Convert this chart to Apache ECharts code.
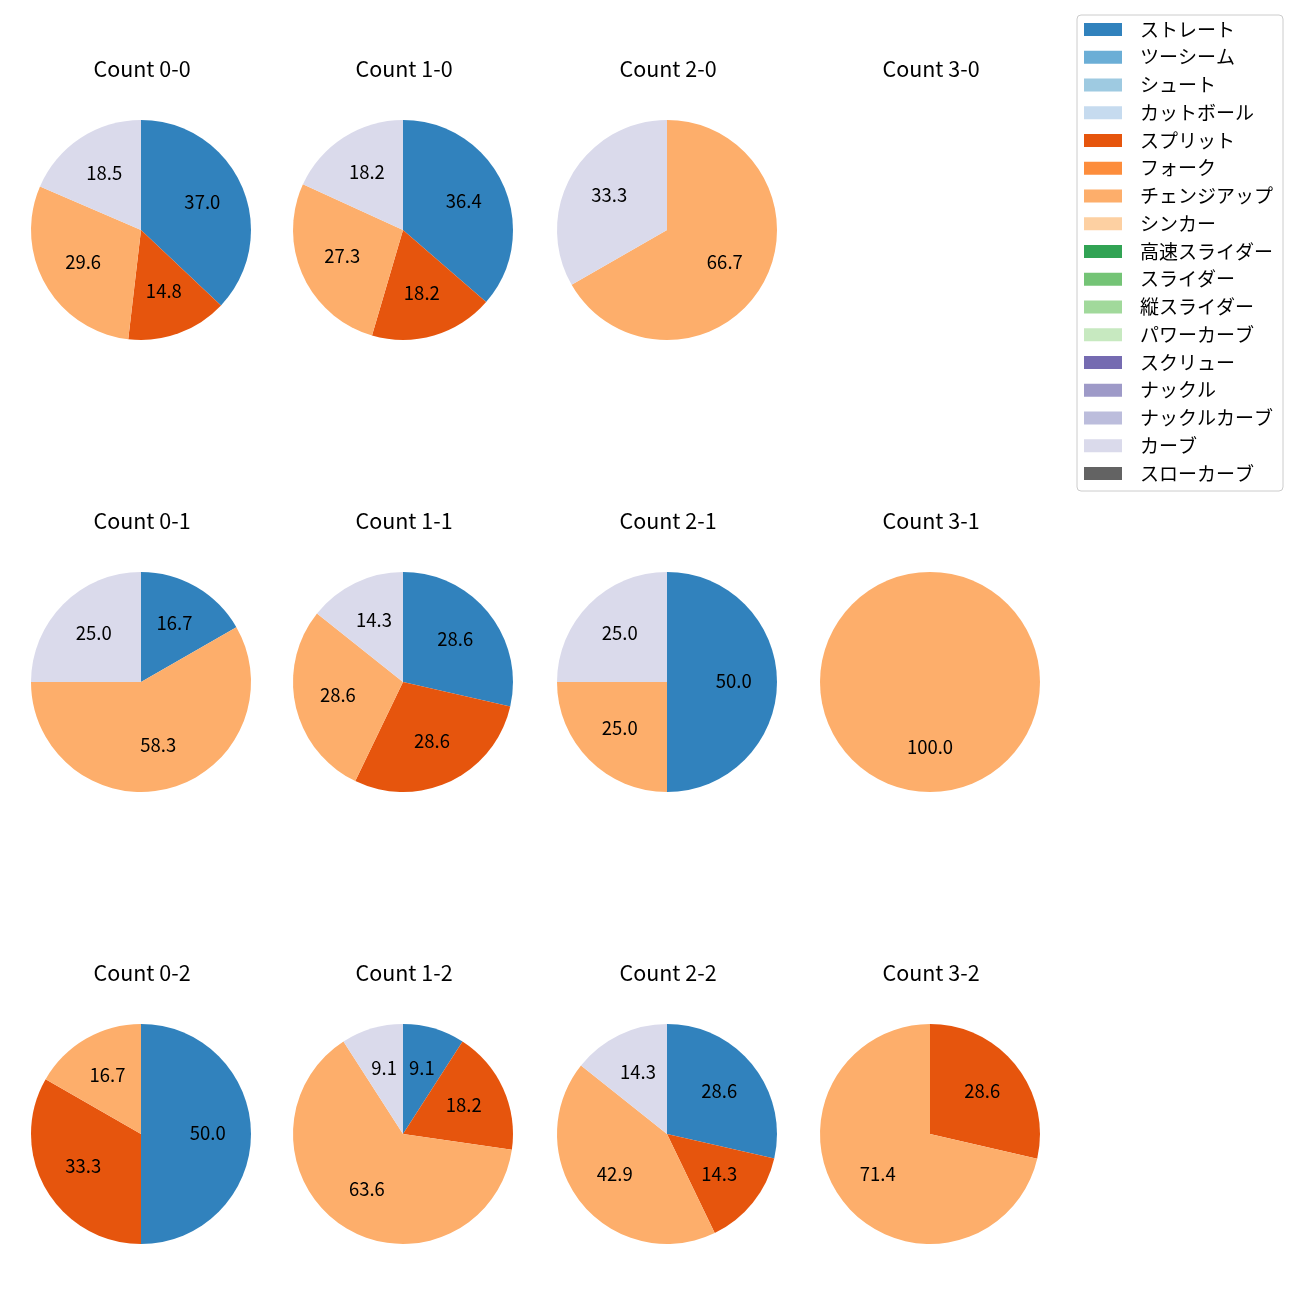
<!DOCTYPE html>
<html><head><meta charset="utf-8">
<script src="https://cdn.jsdelivr.net/npm/echarts@6/dist/echarts.min.js"></script>
<style>html,body{margin:0;padding:0;background:#fff}#c{width:1300px;height:1300px}</style>
</head><body><div id="c"></div>
<script>
const categories = ['ストレート','ツーシーム','シュート','カットボール','スプリット','フォーク','チェンジアップ','シンカー','高速スライダー','スライダー','縦スライダー','パワーカーブ','スクリュー','ナックル','ナックルカーブ','カーブ','スローカーブ'];
const palette = ['#3182bd','#6baed6','#9ecae1','#c6dbef','#e6550d','#fd8d3c','#fdae6b','#fdd0a2','#31a354','#74c476','#a1d99b','#c7e9c0','#756bb1','#9e9ac8','#bcbddc','#dadaeb','#636363'];
const panelTitles = ['Count 0-0','Count 1-0','Count 2-0','Count 3-0','Count 0-1','Count 1-1','Count 2-1','Count 3-1','Count 0-2','Count 1-2','Count 2-2','Count 3-2'];
// percentages per pitch type, in category order
const count00 = [37.0,0,0,0,14.8,0,29.6,0,0,0,0,0,0,0,0,18.5,0];
const count10 = [36.4,0,0,0,18.2,0,27.3,0,0,0,0,0,0,0,0,18.2,0];
const count20 = [0,0,0,0,0,0,66.7,0,0,0,0,0,0,0,0,33.3,0];
const count30 = [0,0,0,0,0,0,0,0,0,0,0,0,0,0,0,0,0];
const count01 = [16.7,0,0,0,0,0,58.3,0,0,0,0,0,0,0,0,25.0,0];
const count11 = [28.6,0,0,0,28.6,0,28.6,0,0,0,0,0,0,0,0,14.3,0];
const count21 = [50.0,0,0,0,0,0,25.0,0,0,0,0,0,0,0,0,25.0,0];
const count31 = [0,0,0,0,0,0,100.0,0,0,0,0,0,0,0,0,0,0];
const count02 = [50.0,0,0,0,33.3,0,16.7,0,0,0,0,0,0,0,0,0,0];
const count12 = [9.1,0,0,0,18.2,0,63.6,0,0,0,0,0,0,0,0,9.1,0];
const count22 = [28.6,0,0,0,14.3,0,42.9,0,0,0,0,0,0,0,0,14.3,0];
const count32 = [0,0,0,0,28.6,0,71.4,0,0,0,0,0,0,0,0,0,0];
const panels = [count00,count10,count20,count30,count01,count11,count21,count31,count02,count12,count22,count32];

const FONT = "'Noto Sans CJK JP','Noto Sans',sans-serif";
const colX = [141, 403, 667, 930];
const rowY = [230, 682, 1134];
const R = 110;

const series = [];
// hidden legend provider
series.push({
  type:'pie', center:[-500,-500], radius:1, silent:true, label:{show:false}, labelLine:{show:false},
  data: categories.map((n,i)=>({name:n, value:1, itemStyle:{color:palette[i]}}))
});
const graphics = [];
panels.forEach((vals, p) => {
  const cx = colX[p % 4], cy = rowY[Math.floor(p / 4)];
  graphics.push({
    type:'text', x: cx + 1, y: cy - 161, silent:true,
    style:{text: panelTitles[p], fill:'#000', font: '21.5px ' + FONT, textAlign:'center', textVerticalAlign:'middle'}
  });
  const data = [];
  vals.forEach((v, i) => { if (v > 0) data.push({name: categories[i], value: v, itemStyle: {color: palette[i]}}); });
  if (!data.length) return;
  series.push({
    type:'pie', center:[cx, cy], radius:[0, R], startAngle:90, clockwise:true, silent:true,
    avoidLabelOverlap:false, label:{show:false}, labelLine:{show:false},
    itemStyle:{borderWidth:0}, emphasis:{disabled:true}, animation:false, data: data
  });
  series.push({
    type:'pie', center:[cx, cy - 1.5], radius:[0, R * 1.16], startAngle:90, clockwise:true, silent:true,
    avoidLabelOverlap:false, labelLine:{show:false}, emphasis:{disabled:true}, animation:false,
    itemStyle:{color:'rgba(0,0,0,0)', borderWidth:0},
    label:{show:true, position:'inside', color:'#000', fontFamily:FONT, fontSize:18.5,
      formatter: d => d.value.toFixed(1)},
    data: data.map(d => ({name: d.name, value: d.value}))
  });
});

const chart = echarts.init(document.getElementById('c'), null, {renderer:'canvas'});
chart.setOption({
  animation:false,
  graphic: graphics,
  legend: {
    orient:'vertical', left:1077, top:15, icon:'rect', itemWidth:38, itemHeight:13, itemGap:8.75,
    padding:[5,10,8,7], borderColor:'#cccccc', borderWidth:1, borderRadius:4, backgroundColor:'#fff',
    selectedMode:false, data: categories,
    textStyle:{fontFamily:FONT, fontSize:19, color:'#000', lineHeight:19, padding:[0,0,0,13]}
  },
  series: series
});
</script></body></html>
